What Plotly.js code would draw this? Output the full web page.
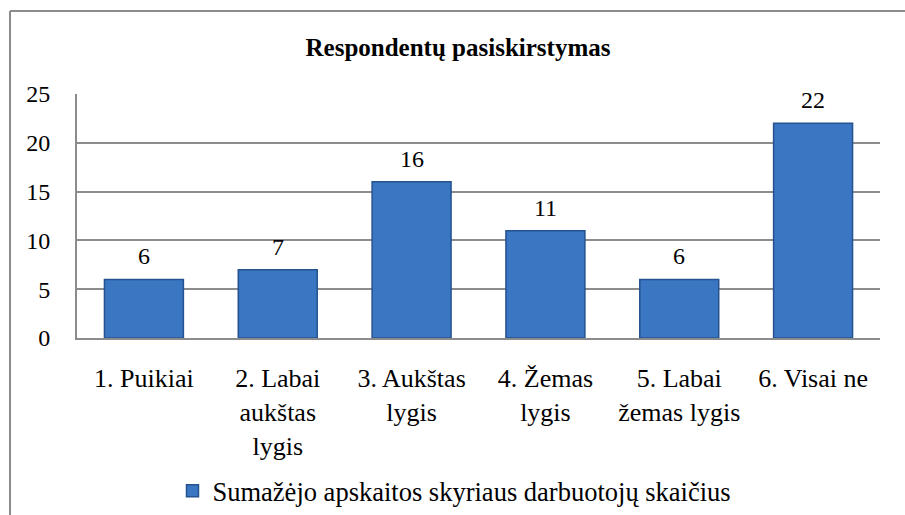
<!DOCTYPE html>
<html>
<head>
<meta charset="utf-8">
<script src="https://cdn.plot.ly/plotly-3.0.1.min.js"></script>
<style>
html,body{margin:0;padding:0;background:#fff;}
#chart{width:905px;height:515px;}
</style>
</head>
<body>
<div id="chart"></div>
<script>
var categories = ["1. Puikiai", "2. Labai<br>aukštas<br>lygis", "3. Aukštas<br>lygis", "4. Žemas<br>lygis", "5. Labai<br>žemas lygis", "6. Visai ne"];
var values = [6, 7, 16, 11, 6, 22];
var seriesName = "Sumažėjo apskaitos skyriaus darbuotojų skaičius";
var chartTitle = "Respondentų pasiskirstymas";
var yTicks = [0, 5, 10, 15, 20, 25];

var FONT = 'Liberation Serif, Times New Roman, serif';

var W = 905, H = 515;
var L = 77, R = 25, T = 94, B = 177;
var pw = W - L - R, ph = H - T - B;
function px2x(p){ return (p - L) / pw; }
function py2y(p){ return (H - B - p) / ph; }

var trace = {
  type: 'bar',
  x: categories,
  y: values,
  name: seriesName,
  marker: {color: '#3a76c2', line: {color: '#25538f', width: 1.5}},
  width: 0.59,
  hoverinfo: 'x+y',
  showlegend: true
};

var annotations = categories.map(function(c, i){
  return {
    x: c, y: values[i], xref: 'x', yref: 'y',
    text: String(values[i]), showarrow: false,
    yanchor: 'bottom', xanchor: 'center', yshift: 8,
    font: {family: FONT, size: 24, color: '#000'}
  };
});

var layout = {
  width: W, height: H,
  margin: {l: L, r: R, t: T, b: B, pad: 0, autoexpand: false},
  paper_bgcolor: '#fff',
  plot_bgcolor: '#fff',
  font: {family: FONT, size: 24, color: '#000'},
  title: {
    text: '<b>' + chartTitle + '</b>',
    font: {family: FONT, size: 25, color: '#000'},
    x: 458 / W, xref: 'container', xanchor: 'center',
    y: 1 - 47 / H, yref: 'container', yanchor: 'middle'
  },
  xaxis: {
    type: 'category',
    showgrid: false,
    showline: true, linecolor: '#8c8c8c', linewidth: 2,
    ticks: '',
    tickfont: {family: FONT, size: 26, color: '#000'},
    ticklabelstandoff: 16,
    automargin: false,
    fixedrange: true
  },
  yaxis: {
    range: [0, 25],
    tickvals: yTicks,
    ticktext: yTicks.map(String),
    showgrid: true, gridcolor: '#8c8c8c', gridwidth: 2,
    showline: true, linecolor: '#8c8c8c', linewidth: 2,
    zeroline: false,
    ticks: '',
    tickfont: {family: FONT, size: 24, color: '#000'},
    ticklabelstandoff: 20,
    automargin: false,
    fixedrange: true
  },
  bargap: 0.41,
  showlegend: true,
  legend: {
    orientation: 'h',
    x: 0.5 - 24 / pw, xanchor: 'center',
    y: 1 - 491 / H, yref: 'container', yanchor: 'middle',
    font: {family: FONT, size: 26.5, color: '#000'},
    itemwidth: 30,
    bgcolor: 'rgba(0,0,0,0)'
  },
  annotations: annotations,
  shapes: [
    {type: 'line', xref: 'paper', yref: 'paper', x0: px2x(10), x1: px2x(910), y0: py2y(11), y1: py2y(11), line: {color: '#8c8c8c', width: 2}},
    {type: 'line', xref: 'paper', yref: 'paper', x0: px2x(10), x1: px2x(10), y0: py2y(11), y1: py2y(520), line: {color: '#8c8c8c', width: 2}}
  ]
};

Plotly.newPlot('chart', [trace], layout, {displayModeBar: false, staticPlot: true});
</script>
</body>
</html>
